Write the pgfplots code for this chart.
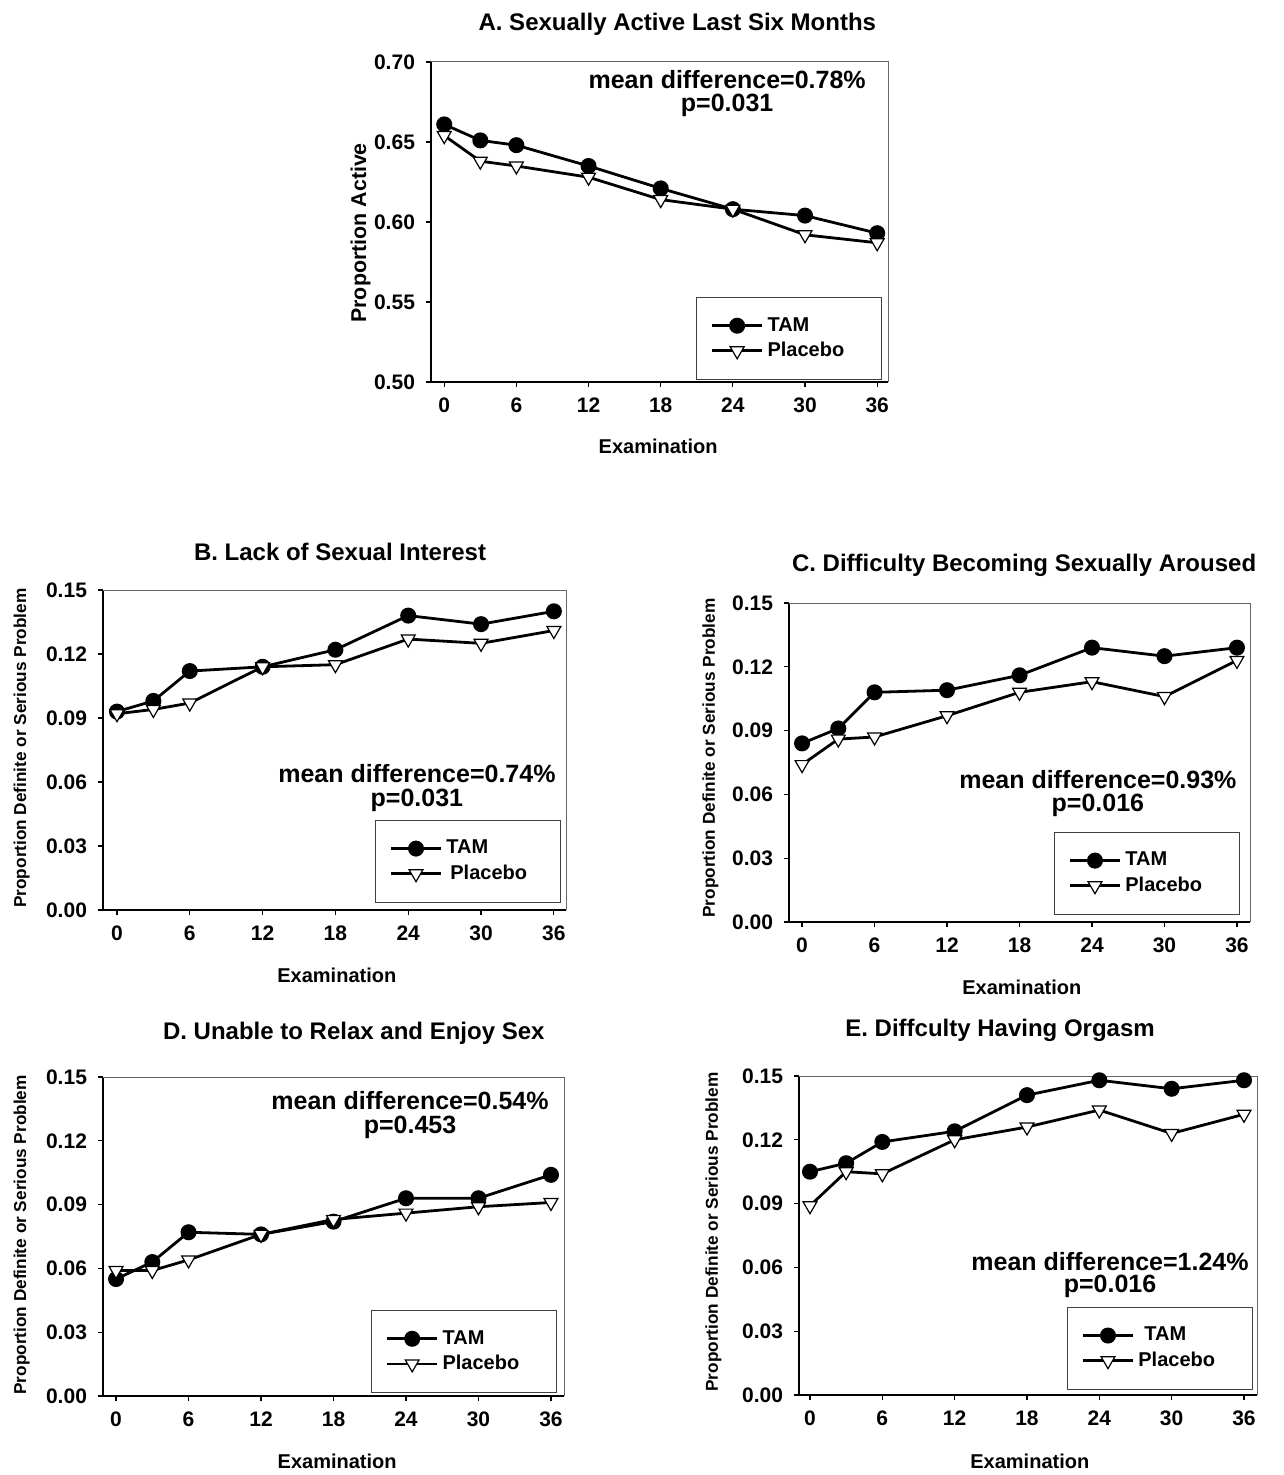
\documentclass[border=0pt]{standalone}
\usepackage{fontspec}
\setmainfont{Liberation Sans}
\usepackage{pgfplots}
\pgfplotsset{compat=1.18}

\pgfplotsset{
  panel/.style={
    scale only axis,
    clip=false,
    axis x line*=bottom, axis y line*=left,
    axis line style={line width=0.8pt, black},
    tick align=outside,
    major tick length=2.5pt,
    tick style={line width=0.6pt, black},
    xtick={0,6,12,18,24,30,36},
    scaled y ticks=false,
    /pgf/number format/assume math mode=true,
    tick label style={font=\fontsize{10.5}{12}\selectfont\bfseries},
    yticklabel style={/pgf/number format/fixed, /pgf/number format/fixed zerofill, /pgf/number format/precision=2, xshift=-2pt},
    xticklabel style={yshift=-2pt},
    legend cell align=left,
    legend style={draw=black!75, line width=0.5pt, font=\fontsize{10}{12}\selectfont\bfseries,
      inner xsep=7pt, inner ysep=8pt, row sep=0pt, anchor=south east},
    legend image code/.code={\draw[mark repeat=2,mark phase=2,##1] plot coordinates {(0pt,0pt) (12.5pt,0pt) (25pt,0pt)};},
  },
  tam/.style={black, line width=1.4pt, mark=*, mark size=3.3pt, mark options={solid, fill=black}},
  plac/.style={black, line width=1.4pt, mark=triangle*, mark size=4pt, mark options={solid, fill=white, rotate=180, line width=0.6pt}},
}

\newcommand{\frameTR}{\draw[black!60, line width=0.5pt] (rel axis cs:0,1) -- (rel axis cs:1,1) -- (rel axis cs:1,0);}
\newcommand{\anno}[5]{%
  \node[anchor=base, font=\fontsize{12.5}{14}\selectfont\bfseries] at (rel axis cs:#1,#2) {mean difference=#3\%};
  \node[anchor=base, font=\fontsize{12.5}{14}\selectfont\bfseries] at (rel axis cs:#1,#4) {p=#5};}
\newcommand{\ttl}[3]{\node[anchor=base, font=\fontsize{12}{14}\selectfont\bfseries] at (rel axis cs:#1,#2) {#3};}
\newcommand{\xlab}[2]{\node[anchor=base, font=\fontsize{10}{12}\selectfont\bfseries] at (rel axis cs:#1,#2) {Examination};}
\newcommand{\ylab}[3]{\node[anchor=base, rotate=90, font=\fontsize{#3}{12}\selectfont\bfseries] at (rel axis cs:#1,#2) {Proportion Definite or Serious Problem};}

\begin{document}
\begin{tikzpicture}
\path[use as bounding box] (0,0) rectangle (641.5pt,-737.5pt);

% ---------- A ----------
\begin{axis}[panel, at={(215.5pt,-191pt)}, anchor=south west,
  width=228.5pt, height=160pt, xmin=-1.1, xmax=36.9, ymin=0.5, ymax=0.7,
  ytick={0.50,0.55,0.60,0.65,0.70},
  legend style={at={(rel axis cs:0.987,0.006)}}]
\addplot[tam] coordinates {(0,0.661)(3,0.651)(6,0.648)(12,0.635)(18,0.621)(24,0.608)(30,0.604)(36,0.593)};
\addlegendentry{TAM}
\addplot[plac] coordinates {(0,0.654)(3,0.638)(6,0.635)(12,0.628)(18,0.614)(24,0.608)(30,0.592)(36,0.587)};
\addlegendentry{\makebox[48pt][l]{Placebo}}
\frameTR
\anno{0.648}{0.916}{0.78}{0.844}{0.031}
\ttl{0.539}{1.097}{A. Sexually Active Last Six Months}
\xlab{0.497}{-0.222}
\node[anchor=base, rotate=90, font=\fontsize{10.7}{12}\selectfont\bfseries] at (rel axis cs:-0.142,0.466) {Proportion Active};
\end{axis}

% ---------- B ----------
\begin{axis}[panel, at={(51.5pt,-455pt)}, anchor=south west,
  width=231.5pt, height=160pt, xmin=-1.15, xmax=37, ymin=0, ymax=0.15,
  ytick={0,0.03,0.06,0.09,0.12,0.15},
  legend style={at={(rel axis cs:0.989,0.022)}}]
\addplot[tam] coordinates {(0,0.093)(3,0.098)(6,0.112)(12,0.114)(18,0.122)(24,0.138)(30,0.134)(36,0.140)};
\addlegendentry{TAM}
\addplot[plac] coordinates {(0,0.092)(3,0.094)(6,0.097)(12,0.114)(18,0.115)(24,0.127)(30,0.125)(36,0.131)};
\addlegendentry{\makebox[48pt][l]{\hspace{2pt}Placebo}}
\frameTR
\anno{0.678}{0.397}{0.74}{0.322}{0.031}
\ttl{0.512}{1.091}{B. Lack of Sexual Interest}
\xlab{0.505}{-0.225}
\ylab{-0.166}{0.506}{8.6}
\end{axis}

% ---------- C ----------
\begin{axis}[panel, at={(394.5pt,-461pt)}, anchor=south west,
  width=230.5pt, height=159.5pt, xmin=-1.08, xmax=37.08, ymin=0, ymax=0.15,
  ytick={0,0.03,0.06,0.09,0.12,0.15},
  legend style={at={(rel axis cs:0.978,0.022)}}]
\addplot[tam] coordinates {(0,0.084)(3,0.091)(6,0.108)(12,0.109)(18,0.116)(24,0.129)(30,0.125)(36,0.129)};
\addlegendentry{TAM}
\addplot[plac] coordinates {(0,0.074)(3,0.086)(6,0.087)(12,0.097)(18,0.108)(24,0.113)(30,0.106)(36,0.123)};
\addlegendentry{\makebox[48pt][l]{Placebo}}
\frameTR
\anno{0.670}{0.420}{0.93}{0.345}{0.016}
\ttl{0.510}{1.100}{C. Difficulty Becoming Sexually Aroused}
\xlab{0.505}{-0.226}
\ylab{-0.161}{0.514}{8.6}
\end{axis}

% ---------- D ----------
\begin{axis}[panel, at={(51.5pt,-698pt)}, anchor=south west,
  width=230.5pt, height=159.5pt, xmin=-1.08, xmax=37.08, ymin=0, ymax=0.15,
  ytick={0,0.03,0.06,0.09,0.12,0.15},
  legend style={at={(rel axis cs:0.985,0.009)}}]
\addplot[tam] coordinates {(0,0.055)(3,0.063)(6,0.077)(12,0.076)(18,0.082)(24,0.093)(30,0.093)(36,0.104)};
\addlegendentry{TAM}
\addplot[plac] coordinates {(0,0.059)(3,0.059)(6,0.064)(12,0.076)(18,0.083)(24,0.086)(30,0.089)(36,0.091)};
\addlegendentry{\makebox[48pt][l]{Placebo}}
\frameTR
\anno{0.666}{0.897}{0.54}{0.824}{0.453}
\ttl{0.544}{1.119}{D. Unable to Relax and Enjoy Sex}
\xlab{0.508}{-0.226}
\ylab{-0.167}{0.505}{8.6}
\end{axis}

% ---------- E ----------
\begin{axis}[panel, at={(399.5pt,-697.5pt)}, anchor=south west,
  width=229pt, height=159.5pt, xmin=-0.91, xmax=37.08, ymin=0, ymax=0.15,
  ytick={0,0.03,0.06,0.09,0.12,0.15},
  legend style={at={(rel axis cs:0.991,0.016)}}]
\addplot[tam] coordinates {(0,0.105)(3,0.109)(6,0.119)(12,0.124)(18,0.141)(24,0.148)(30,0.144)(36,0.148)};
\addlegendentry{\hspace{3pt}TAM}
\addplot[plac] coordinates {(0,0.089)(3,0.105)(6,0.104)(12,0.120)(18,0.126)(24,0.134)(30,0.123)(36,0.132)};
\addlegendentry{\makebox[48pt][l]{Placebo}}
\frameTR
\anno{0.679}{0.389}{1.24}{0.320}{0.016}
\ttl{0.439}{1.125}{E. Diffculty Having Orgasm}
\xlab{0.504}{-0.229}
\ylab{-0.177}{0.511}{8.6}
\end{axis}
\end{tikzpicture}
\end{document}
